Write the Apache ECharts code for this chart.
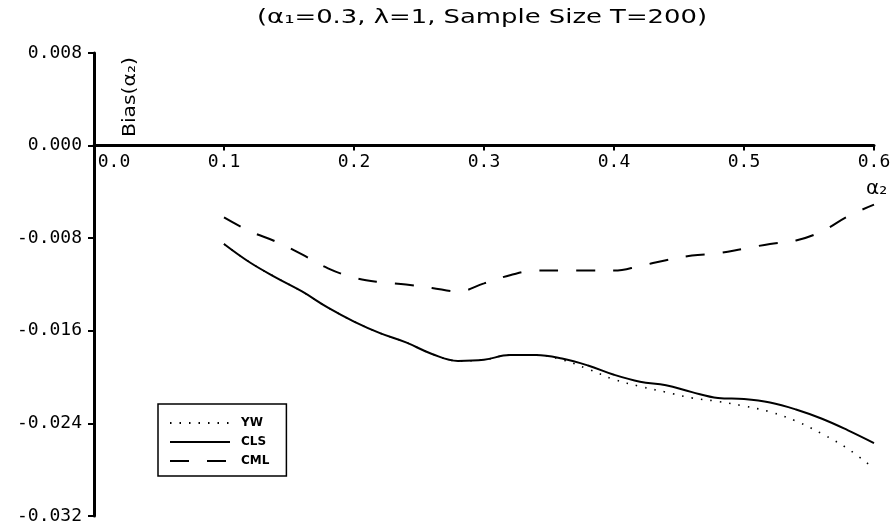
<!DOCTYPE html>
<html>
<head>
<meta charset="utf-8">
<script src="https://cdn.jsdelivr.net/npm/echarts@6/dist/echarts.min.js"></script>
<style>
  html, body { margin: 0; padding: 0; background: #fff; }
  #chart { width: 893px; height: 523px; }
</style>
</head>
<body>
<div id="chart"></div>
<script>
// α2 grid on which the bias was evaluated
const alpha2 = [0.10, 0.12, 0.14, 0.16, 0.18, 0.20, 0.22, 0.24, 0.26, 0.28, 0.30, 0.32, 0.34,
                0.36, 0.38, 0.40, 0.42, 0.44, 0.46, 0.48, 0.50, 0.52, 0.54, 0.56, 0.58, 0.60];

// Bias(α2) for each estimator
const biasYW  = [-0.0085, -0.0101, -0.0114, -0.0126, -0.0140, -0.0152, -0.0162, -0.0170, -0.0180,
                 -0.0186, -0.0185, -0.0181, -0.0181, -0.0185, -0.0193, -0.0202, -0.0208, -0.0213,
                 -0.0218, -0.0221, -0.0225, -0.0230, -0.0238, -0.0249, -0.0262, -0.0279];
const biasCLS = [-0.0085, -0.0101, -0.0114, -0.0126, -0.0140, -0.0152, -0.0162, -0.0170, -0.0180,
                 -0.0186, -0.0185, -0.0181, -0.0181, -0.0184, -0.0190, -0.0198, -0.0204, -0.0207,
                 -0.0213, -0.0218, -0.0219, -0.0222, -0.0228, -0.0236, -0.0246, -0.0257];
const biasCML = [-0.0062, -0.0074, -0.0083, -0.0094, -0.0106, -0.0114, -0.0118, -0.0120, -0.0123,
                 -0.0126, -0.0119, -0.0112, -0.0108, -0.0108, -0.0108, -0.0108, -0.0104, -0.0099,
                 -0.0095, -0.0093, -0.0089, -0.0085, -0.0082, -0.0074, -0.0061, -0.0051];

const seriesNames = ['YW', 'CLS', 'CML'];
const titleText = '(α₁=0.3, λ=1, Sample Size T=200)';
const yAxisTitle = 'Bias(α₂)';
const xAxisTitle = 'α₂';

const Y_MIN = -0.032, Y_MAX = 0.008, Y_STEP = 0.008;
const X_MIN = 0, X_MAX = 0.6, X_STEP = 0.1;

const FONT = 'DejaVu Sans';
const MONO = 'DejaVu Sans Mono';
const pairs = (ys) => alpha2.map((x, i) => [x, ys[i]]);

const W = 893, H = 523;
const GRID = { left: 94, right: 19, top: 53, bottom: 7 };
// The horizontal axis crosses at bias = 0: lift it from the grid bottom to that level.
const plotH = H - GRID.top - GRID.bottom;
const zeroLift = plotH * (0 - Y_MIN) / (Y_MAX - Y_MIN);

// The plotter lettering is wide; stretch a text run horizontally to a target length.
const ctx = document.createElement('canvas').getContext('2d');
function stretchTo(text, size, target) {
  ctx.font = size + 'px "' + FONT + '"';
  return target / ctx.measureText(text).width;
}

const tickFont = { fontFamily: MONO, fontSize: 18, color: '#000' };

const chart = echarts.init(document.getElementById('chart'), null, { renderer: 'canvas' });

chart.setOption({
  animation: false,
  backgroundColor: '#fff',
  grid: Object.assign({ containLabel: false, outerBoundsMode: 'none' }, GRID),
  legend: {
    data: seriesNames,
    orient: 'vertical',
    left: 158,
    top: 404,
    itemWidth: 60,
    itemHeight: 12,
    itemGap: 7,
    padding: [13, 17, 9, 11],
    borderColor: '#000',
    borderWidth: 1.5,
    itemStyle: { opacity: 0 },
    textStyle: { fontFamily: FONT, fontSize: 12, fontWeight: 'bold', color: '#000', padding: [0, 0, 0, 6] }
  },
  xAxis: {
    type: 'value',
    min: X_MIN,
    max: X_MAX,
    interval: X_STEP,
    position: 'bottom',
    offset: -zeroLift,
    axisLine: { onZero: false, lineStyle: { color: '#000', width: 3 } },
    axisTick: { show: true, length: 5, lineStyle: { color: '#000', width: 2 } },
    splitLine: { show: false },
    axisLabel: Object.assign({
      margin: 8,
      formatter: (v) => (v === 0 ? '{z|0.0}' : v.toFixed(1)),
      rich: { z: Object.assign({ padding: [0, 0, 0, 40] }, tickFont) }
    }, tickFont),
    name: xAxisTitle,
    nameLocation: 'end',
    nameGap: -8,
    nameTextStyle: {
      fontFamily: FONT, fontSize: 20, color: '#000',
      verticalAlign: 'top', padding: [33, 0, 0, 0]
    }
  },
  yAxis: {
    type: 'value',
    min: Y_MIN,
    max: Y_MAX,
    interval: Y_STEP,
    axisLine: { show: true, onZero: false, lineStyle: { color: '#000', width: 3 } },
    axisTick: { show: true, length: 6, lineStyle: { color: '#000', width: 2 } },
    splitLine: { show: false },
    axisLabel: Object.assign({
      margin: 12,
      formatter: (v) => v.toFixed(3)
    }, tickFont)
  },
  graphic: [
    {
      type: 'text',
      x: 257,
      y: 18,
      scaleX: stretchTo(titleText, 19, 450),
      style: {
        text: titleText, font: '19px "DejaVu Sans"', fill: '#000',
        textAlign: 'left', textVerticalAlign: 'middle'
      }
    },
    {
      type: 'text',
      x: 131,
      y: 137,
      rotation: Math.PI / 2,
      scaleX: stretchTo(yAxisTitle, 17, 80),
      style: {
        text: yAxisTitle, font: '17px "DejaVu Sans"', fill: '#000',
        textAlign: 'left', textVerticalAlign: 'middle'
      }
    }
  ],
  series: [
    {
      name: 'YW', type: 'line', data: pairs(biasYW), smooth: 0.4,
      symbol: 'none', z: 2,
      lineStyle: { color: '#000', width: 1.6, type: [1.5, 8] },
      itemStyle: { color: '#000' }
    },
    {
      name: 'CLS', type: 'line', data: pairs(biasCLS), smooth: 0.4,
      symbol: 'none', z: 3,
      lineStyle: { color: '#000', width: 2 },
      itemStyle: { color: '#000' }
    },
    {
      name: 'CML', type: 'line', data: pairs(biasCML), smooth: 0.4,
      symbol: 'none', z: 3,
      lineStyle: { color: '#000', width: 2, type: [19, 18] },
      itemStyle: { color: '#000' }
    }
  ]
});
</script>
</body>
</html>
